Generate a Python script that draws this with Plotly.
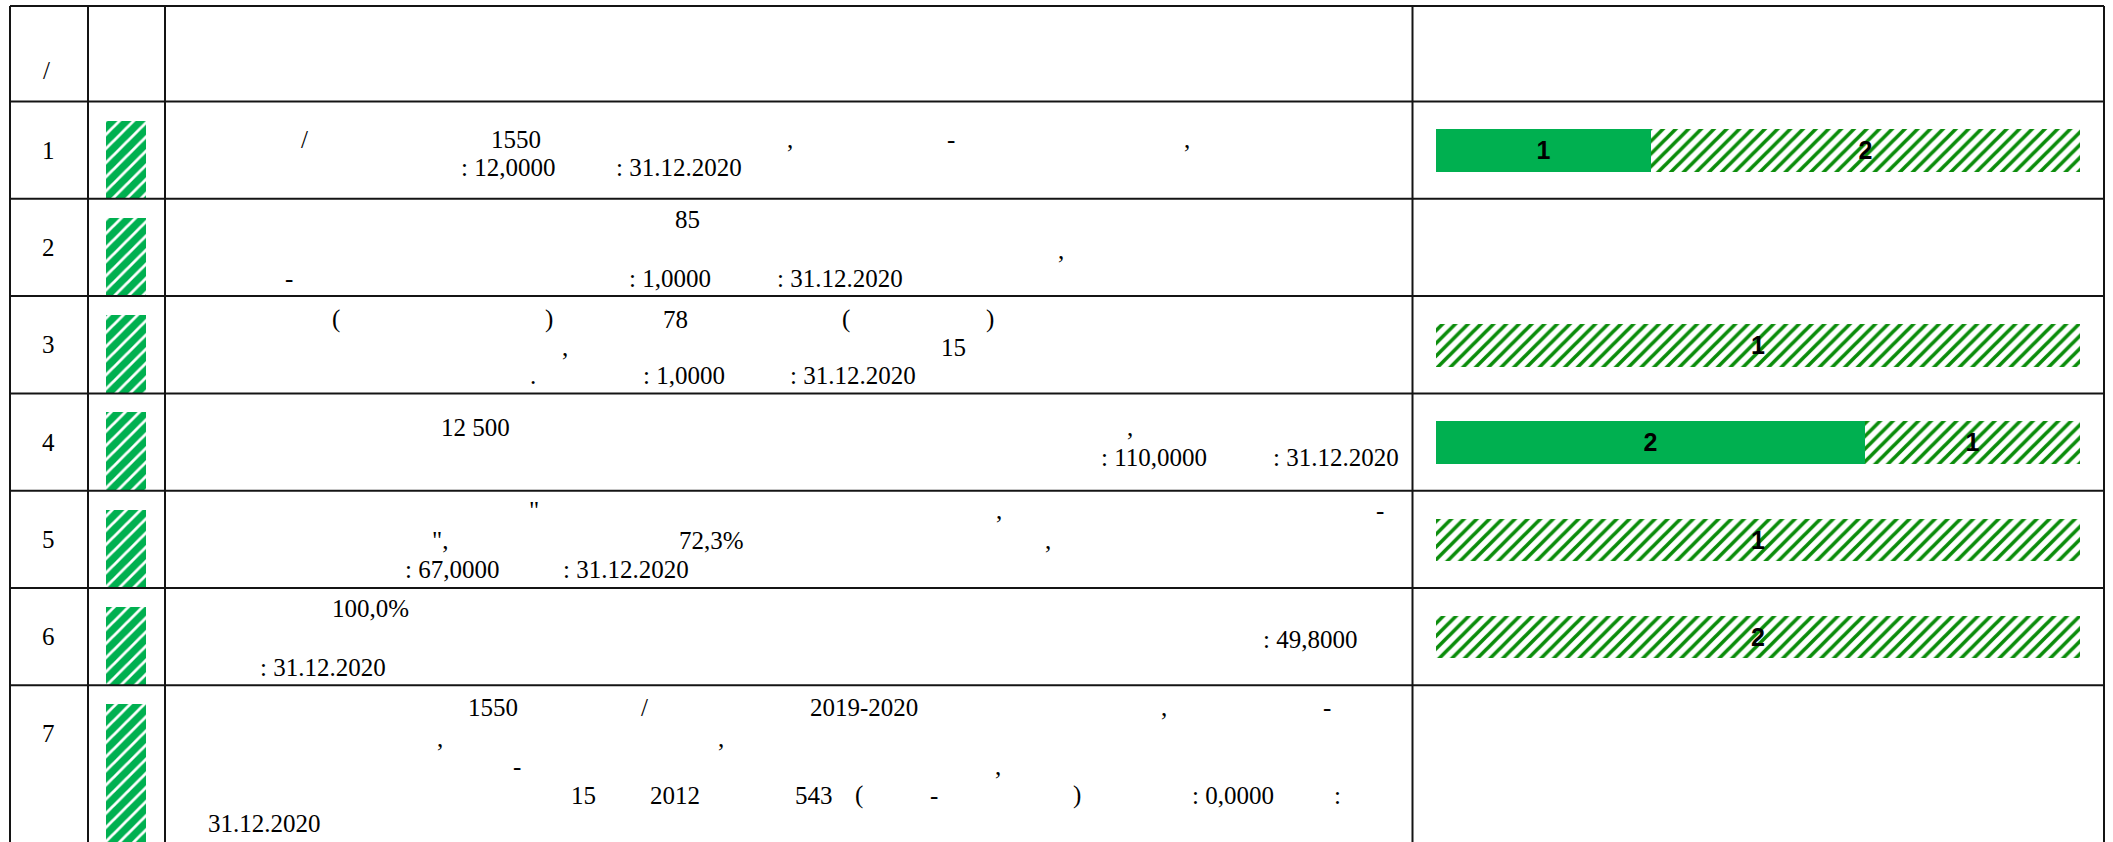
import plotly.graph_objects as go

# ---------------- data ----------------
ROWS = ["1", "2", "3", "4", "5", "6", "7"]
SOLID_COUNTS = [1, None, None, 2, None, None, None]      # solid green segment
HATCHED_COUNTS = [2, None, 1, 1, 1, 2, None]             # hatched green segment
HEADER_MARK = "/"

# text fragments per table row: (text, x, y) in page pixels
FRAGMENTS = [
    # row 1
    ("/", 304, 139), ("1550", 516, 139), (",", 790, 139), ("-", 951, 139), (",", 1187, 139),
    (": 12,0000", 508, 167), (": 31.12.2020", 679, 167),
    # row 2
    ("85", 687, 219), (",", 1061, 250), ("-", 289, 278), (": 1,0000", 670, 278), (": 31.12.2020", 840, 278),
    # row 3
    ("(", 336, 319), (")", 549, 319), ("78", 675, 319), ("(", 846, 319), (")", 990, 319),
    (",", 565, 347), ("15", 953, 347),
    (".", 533, 375), (": 1,0000", 684, 375), (": 31.12.2020", 853, 375),
    # row 4
    ("12 500", 475, 427), (",", 1130, 427), (": 110,0000", 1154, 457), (": 31.12.2020", 1336, 457),
    # row 5
    ('"', 534, 510), (",", 999, 510), ("-", 1380, 510),
    ('",', 440, 540), ("72,3%", 711, 540), (",", 1048, 540),
    (": 67,0000", 452, 569), (": 31.12.2020", 626, 569),
    # row 6
    ("100,0%", 370, 608), (": 49,8000", 1310, 639), (": 31.12.2020", 323, 667),
    # row 7
    ("1550", 493, 707), ("/", 644, 707), ("2019-2020", 864, 707), (",", 1164, 707), ("-", 1327, 707),
    (",", 440, 738), (",", 721, 738),
    ("-", 517, 766), (",", 998, 766),
    ("15", 583, 795), ("2012", 675, 795), ("543", 814, 795), ("(", 859, 795), ("-", 934, 795),
    (")", 1077, 795), (": 0,0000", 1233, 795), (":", 1337, 795),
    ("31.12.2020", 264, 823),
]

# ---------------- layout geometry ----------------
W, H = 2113, 842
COL_X = [10, 88, 165, 1412.5, 2104]
TOP = 6
HEADER_BOTTOM = 101.5
ROW_H = 97.3
ROW_EDGES = [TOP, HEADER_BOTTOM] + [HEADER_BOTTOM + ROW_H * (i + 1) for i in range(6)]
ROW_TOPS = ROW_EDGES[1:8]
ROW_BOTTOMS = ROW_EDGES[2:8] + [H]
ROW_CENTERS = [HEADER_BOTTOM + ROW_H * (i + 0.5) for i in range(7)]

BAR_X0, BAR_X1 = 1436, 2080
ICON_CX, ICON_W, ICON_GAP = 126, 40, 19

GREEN = "#00b050"
HATCH = "#0a8c0a"
SERIF = '"Liberation Serif", "Times New Roman", Times, "DejaVu Serif", serif'
SANS_B = '"Liberation Sans Narrow", "Liberation Sans", Arial, sans-serif'

# percentage shares of each segment (bars normalised to the full cell width)
totals = [(s or 0) + (h or 0) for s, h in zip(SOLID_COUNTS, HATCHED_COUNTS)]
solid_pct = [(s / t * 100) if (s and t) else None for s, t in zip(SOLID_COUNTS, totals)]
hatched_pct = [(h / t * 100) if (h and t) else None for h, t in zip(HATCHED_COUNTS, totals)]
hatched_base = [(p or 0) for p in solid_pct]

fig = go.Figure()

# legend-like swatches in column 2
fig.add_trace(go.Bar(
    x=[ICON_CX] * len(ROWS),
    base=[t + ICON_GAP for t in ROW_TOPS],
    y=[b - t - ICON_GAP for t, b in zip(ROW_TOPS, ROW_BOTTOMS)],
    width=ICON_W,
    marker=dict(color=GREEN, line=dict(width=0),
                pattern=dict(shape="/", fgcolor="white", bgcolor=GREEN,
                             size=10, solidity=0.28, fillmode="replace")),
    xaxis="x", yaxis="y", showlegend=False, hoverinfo="skip",
))

label_font = dict(family=SANS_B, size=25, color="black", weight="bold")

# stacked share bars in last column
fig.add_trace(go.Bar(
    y=ROWS, x=solid_pct, base=[0] * len(ROWS), orientation="h",
    text=[("" if v is None else str(v)) for v in SOLID_COUNTS],
    textposition="inside", insidetextanchor="middle", constraintext="none", textangle=0,
    textfont=label_font, insidetextfont=label_font,
    marker=dict(color=GREEN, line=dict(width=0)),
    width=0.437, xaxis="x2", yaxis="y2", showlegend=False, hoverinfo="skip",
))
fig.add_trace(go.Bar(
    y=ROWS, x=hatched_pct, base=hatched_base, orientation="h",
    text=[("" if v is None else str(v)) for v in HATCHED_COUNTS],
    textposition="inside", insidetextanchor="middle", constraintext="none", textangle=0,
    textfont=label_font, insidetextfont=label_font,
    marker=dict(color="white", line=dict(width=0),
                pattern=dict(shape="/", fgcolor=HATCH, bgcolor="white",
                             size=9, solidity=0.4, fillmode="replace")),
    width=0.437, xaxis="x2", yaxis="y2", showlegend=False, hoverinfo="skip",
))

# table grid
shapes = []
LINE = dict(color="#141414", width=2)
for x in COL_X:
    shapes.append(dict(type="line", xref="x", yref="y", x0=x, x1=x, y0=TOP, y1=H, line=LINE))
for y in ROW_EDGES:
    shapes.append(dict(type="line", xref="x", yref="y", x0=COL_X[0], x1=COL_X[-1], y0=y, y1=y, line=LINE))

annotations = []
cell_font = dict(family=SERIF, size=25, color="black")
annotations.append(dict(text=HEADER_MARK, x=(COL_X[0] + COL_X[1]) / 2 - 3, y=70, xref="x", yref="y",
                        showarrow=False, font=cell_font, xanchor="center", yanchor="middle"))
for r, cy in zip(ROWS, ROW_CENTERS):
    annotations.append(dict(text=r, x=(COL_X[0] + COL_X[1]) / 2 - 1, y=cy, xref="x", yref="y",
                            showarrow=False, font=cell_font, xanchor="center", yanchor="middle"))
for t, x, y in FRAGMENTS:
    annotations.append(dict(text=t, x=x, y=y, xref="x", yref="y", showarrow=False,
                            font=cell_font, xanchor="center", yanchor="middle"))

bar_dom_top = 1 - HEADER_BOTTOM / H
bar_dom_bot = 1 - (HEADER_BOTTOM + 7 * ROW_H) / H

fig.update_layout(
    width=W, height=H, autosize=False,
    margin=dict(l=0, r=0, t=0, b=0, pad=0),
    paper_bgcolor="white", plot_bgcolor="rgba(0,0,0,0)",
    barmode="overlay", bargap=0,
    font=dict(family=SERIF),
    xaxis=dict(range=[0, W], domain=[0, 1], visible=False, fixedrange=True),
    yaxis=dict(range=[H, 0], domain=[0, 1], visible=False, fixedrange=True),
    xaxis2=dict(range=[0, 100], domain=[BAR_X0 / W, BAR_X1 / W], anchor="y2",
                visible=False, fixedrange=True),
    yaxis2=dict(type="category", categoryorder="array", categoryarray=ROWS,
                range=[6.5, -0.5], domain=[bar_dom_bot, bar_dom_top], anchor="x2",
                visible=False, fixedrange=True),
    shapes=shapes, annotations=annotations, showlegend=False,
)

fig.write_html("out.html", config={"displayModeBar": False},
               post_script="document.body.style.margin='0';document.body.style.overflow='hidden';")
